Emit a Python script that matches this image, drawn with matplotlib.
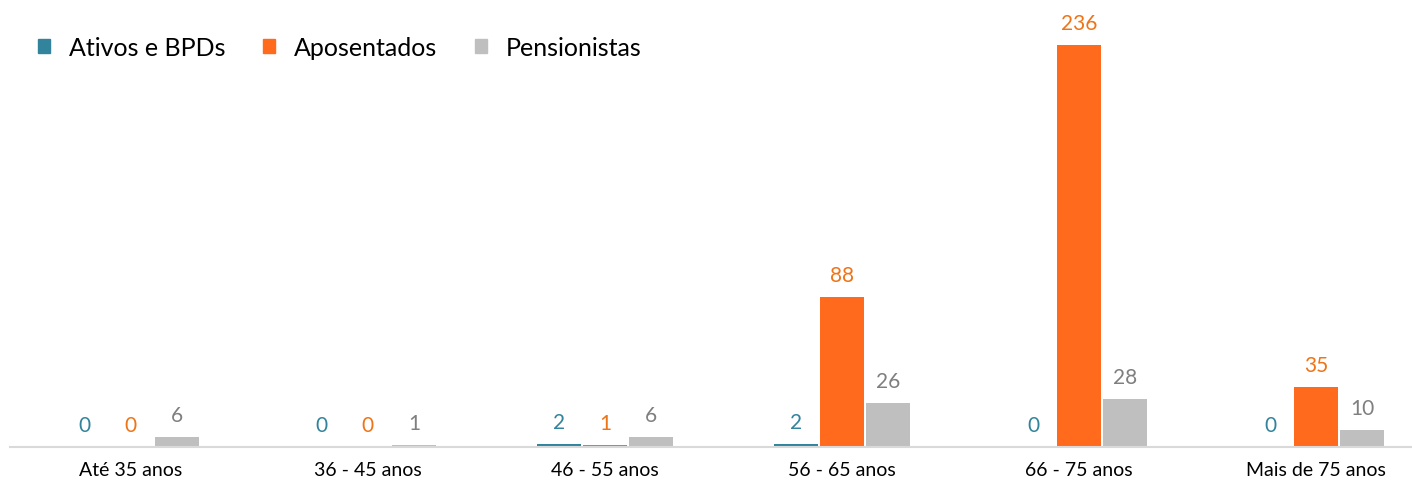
import matplotlib.pyplot as plt
import numpy as np
from matplotlib.patches import Patch

plt.rcParams['font.family'] = ['Lato', 'DejaVu Sans']

categorias = ['Até 35 anos', '36 - 45 anos', '46 - 55 anos', '56 - 65 anos', '66 - 75 anos', 'Mais de 75 anos']
ativos = [0, 0, 2, 2, 0, 0]
aposentados = [0, 0, 1, 88, 236, 35]
pensionistas = [6, 1, 6, 26, 28, 10]

series = [
    ('Ativos e BPDs', ativos, '#31849B', '#31849B'),
    ('Aposentados', aposentados, '#FF6A1C', '#EE7418'),
    ('Pensionistas', pensionistas, '#BFBFBF', '#7F7F7F'),
]

fig = plt.figure(figsize=(14.12, 4.81), dpi=100)
ax = fig.add_axes([10 / 1412, 33 / 481, 1 - 10 / 1412, 448 / 481])

x = np.arange(len(categorias))
largura = 0.186
passo = 0.194

for i, (nome, valores, cor, cor_txt) in enumerate(series):
    pos = x + (i - 1) * passo
    ax.bar(pos, valores, largura, color=cor, label=nome)
    for px, v in zip(pos, valores):
        ax.text(px, v + 7, str(v), ha='center', va='bottom', fontsize=15, color=cor_txt)

ax.set_xlim(-0.51, 5.405)
ax.set_ylim(0, 263)
ax.set_yticks([])
ax.set_xticks(x)
ax.set_xticklabels(categorias, fontsize=14)
ax.tick_params(axis='x', length=0, pad=10)
for lado in ['top', 'right', 'left']:
    ax.spines[lado].set_visible(False)
ax.spines['bottom'].set_color('#D9D9D9')
ax.spines['bottom'].set_linewidth(1.5)

handles = [Patch(color=c, label=n) for n, _, c, _ in series]
fig.legend(handles=handles, loc='center left', bbox_to_anchor=(15 / 1412, 1 - 48 / 481),
           ncol=3, frameon=False, fontsize=18, handlelength=0.5, handleheight=0.5,
           handletextpad=0.75, columnspacing=1.5)

fig.savefig('out.png', dpi=100)
